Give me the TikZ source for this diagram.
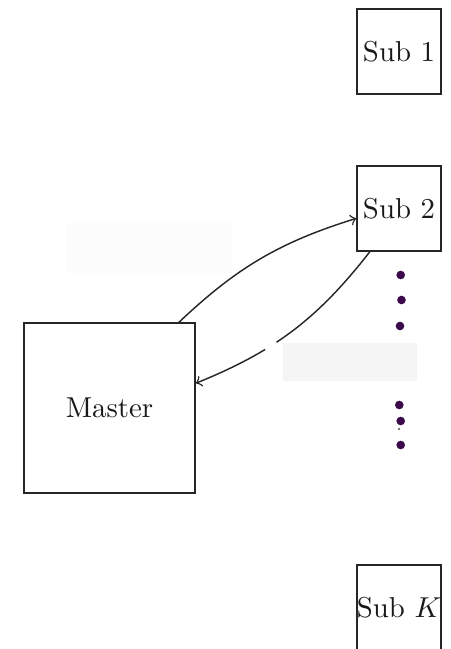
\documentclass[tikz,border=0pt]{standalone}
\usetikzlibrary{arrows}
\definecolor{dotpurple}{HTML}{3C0A4B}
\definecolor{lblA}{HTML}{FCFCFC}
\definecolor{lblB}{HTML}{F5F5F5}
\tikzset{
  subbox/.style={draw=black!85, line width=0.5pt, minimum width=29.2pt, minimum height=29.5pt, inner sep=0pt, text=black!90},
  masterbox/.style={draw=black!85, line width=0.5pt, minimum width=59.4pt, minimum height=59pt, inner sep=0pt, text=black!90},
  link/.style={draw=black!85, line width=0.5pt, ->},
  vdot/.style={circle, fill=dotpurple, inner sep=0pt, minimum size=3pt},
  tinydot/.style={circle, fill=black!70, inner sep=0pt, minimum size=0.8pt},
  blank/.style={inner sep=0pt, draw=none}
}
\begin{document}
\begin{tikzpicture}[x=0.3472pt, y=-0.3472pt]
  \useasboundingbox (0,0) rectangle (450,649);

  % empty label panels
  \node[blank, fill=lblA, minimum width=57.3pt, minimum height=17.4pt] (lblup) at (149.5,248) {};
  \node[blank, fill=lblB, minimum width=46.5pt, minimum height=13.2pt] (lbldown) at (350,362) {};

  % boxes
  \node[subbox] (sub1) at (399,51.5) {Sub 1};
  \node[subbox] (sub2) at (399,208.5) {Sub 2};
  \node[subbox] (subk) at (399,607.5) {Sub $K$};
  \node[masterbox] (master) at (109.5,408) {Master};

  % vertical ellipsis between the sub-problems
  \node[vdot] (d1) at (400.7,275) {};
  \node[vdot] (d2) at (401.5,300) {};
  \node[vdot] (d3) at (400,326) {};
  \node[vdot] (d4) at (399.3,405) {};
  \node[vdot] (d5) at (400.7,421) {};
  \node[tinydot] (d6) at (399,429) {};
  \node[vdot] (d7) at (400.7,445) {};

  % master <-> sub 2 exchange
  \draw[link] (master.51.5) to[bend left=13] (sub2.193);
  \draw[link] (sub2.236) to[bend left=15]
    node[pos=0.63, sloped, fill=white, inner sep=0pt, minimum width=4.6pt, minimum height=2pt] (gap) {}
    (master.16);
\end{tikzpicture}
\end{document}
